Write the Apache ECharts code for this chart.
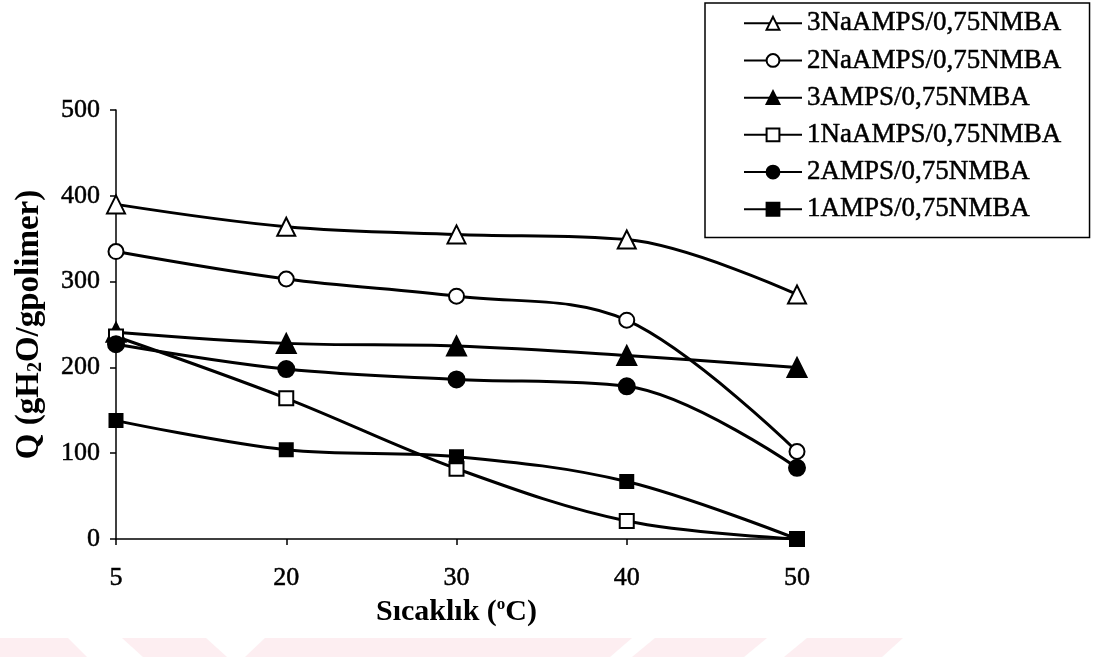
<!DOCTYPE html>
<html>
<head>
<meta charset="utf-8">
<title>Q - Sıcaklık</title>
<script src="https://cdn.jsdelivr.net/npm/echarts@6/dist/echarts.min.js"></script>
<style>
  html, body { margin: 0; padding: 0; background: #fff; }
  #chart { width: 1094px; height: 657px; }
</style>
</head>
<body>
<div id="chart"></div>
<script>
// Temperature categories (°C)
const temperatures = ['5', '20', '30', '40', '50'];

// Swelling ratio Q (g H2O / g polymer) for each gel composition
const naAmps3 = [390, 364, 355, 349, 285];
const naAmps2 = [335, 303, 283, 255, 102];
const amps3   = [241, 228, 225, 214, 200];
const naAmps1 = [236, 164, 82, 21, 0];
const amps2   = [227, 198, 186, 178, 83];
const amps1   = [138, 104, 96, 67, 0];

const seriesNames = [
  '3NaAMPS/0,75NMBA',
  '2NaAMPS/0,75NMBA',
  '3AMPS/0,75NMBA',
  '1NaAMPS/0,75NMBA',
  '2AMPS/0,75NMBA',
  '1AMPS/0,75NMBA'
];

const yTicks = [0, 100, 200, 300, 400, 500];

const serif = '"Liberation Serif", "Times New Roman", serif';

// Slight outline gives the printed serif text a heavier stroke
const inkText = { textBorderColor: '#000', textBorderWidth: 0.5 };

function lineSeries(name, data, symbol, size, filled) {
  return {
    name: name,
    type: 'line',
    data: data,
    smooth: 0.35,
    symbol: symbol,
    symbolSize: size,
    showAllSymbol: true,
    lineStyle: { color: '#000', width: 3 },
    itemStyle: {
      color: filled ? '#000' : '#fff',
      borderColor: '#000',
      borderWidth: 2
    },
    emphasis: { disabled: true }
  };
}

// Faint pink band pieces along the bottom edge
function band(xTopL, xTopR, xBotL, xBotR) {
  return {
    type: 'polygon',
    silent: true,
    z: -10,
    shape: { points: [[xTopL, 638], [xTopR, 638], [xBotR, 657], [xBotL, 657]] },
    style: { fill: '#fdeef1' }
  };
}

const chart = echarts.init(document.getElementById('chart'), null, { renderer: 'canvas' });

chart.setOption({
  backgroundColor: '#fff',
  animation: false,
  textStyle: { fontFamily: serif, color: '#000' },
  graphic: [
    band(0, 68, 0, 87),
    band(122, 206, 143, 227),
    band(265, 632, 245, 610),
    band(655, 767, 632, 744),
    band(807, 903, 784, 882)
  ],
  grid: { left: 116, right: 297, top: 110, bottom: 118, containLabel: false },
  legend: {
    data: seriesNames,
    orient: 'vertical',
    left: 705,
    top: 3,
    itemWidth: 58,
    itemHeight: 16,
    itemGap: 9.7,
    itemTextGap: 5,
    padding: [6.5, 28, 14.5, 38],
    borderColor: '#000',
    borderWidth: 1.5,
    borderRadius: 0,
    backgroundColor: '#fff',
    selectedMode: false,
    textStyle: Object.assign({ fontFamily: serif, fontSize: 27, lineHeight: 27, color: '#000' }, inkText)
  },
  xAxis: {
    type: 'category',
    data: temperatures,
    boundaryGap: false,
    name: '{b|Sıcaklık (}{sup|o}{b|C)}',
    nameLocation: 'middle',
    nameGap: 52,
    nameTextStyle: {
      rich: {
        b: { fontFamily: serif, fontSize: 30, fontWeight: 'bold', color: '#000', lineHeight: 32 },
        sup: { fontFamily: serif, fontSize: 17, fontWeight: 'bold', color: '#000', verticalAlign: 'top', lineHeight: 32, padding: [0, 0, 16, 0] }
      }
    },
    axisLine: { lineStyle: { color: '#000', width: 1.5 } },
    axisTick: { show: true, inside: false, length: 6, lineStyle: { color: '#000', width: 1.5 } },
    axisLabel: Object.assign({ fontFamily: serif, fontSize: 26, color: '#000', margin: 26 }, inkText),
    splitLine: { show: false }
  },
  yAxis: {
    type: 'value',
    min: yTicks[0],
    max: yTicks[yTicks.length - 1],
    interval: 100,
    name: '{b|Q (gH}{sub|2}{b|O/gpolimer)}',
    nameLocation: 'middle',
    nameGap: 70,
    nameRotate: 90,
    nameTextStyle: {
      rich: {
        b: { fontFamily: serif, fontSize: 33, fontWeight: 'bold', color: '#000', lineHeight: 34 },
        sub: { fontFamily: serif, fontSize: 20, fontWeight: 'bold', color: '#000', verticalAlign: 'bottom', lineHeight: 34, padding: [14, 0, 0, 0] }
      }
    },
    axisLine: { show: true, lineStyle: { color: '#000', width: 1.5 } },
    axisTick: { show: true, inside: false, length: 6, lineStyle: { color: '#000', width: 1.5 } },
    axisLabel: Object.assign({ fontFamily: serif, fontSize: 26, color: '#000', margin: 16 }, inkText),
    splitLine: { show: false }
  },
  series: [
    lineSeries(seriesNames[0], naAmps3, 'triangle', 18, false),
    lineSeries(seriesNames[1], naAmps2, 'circle', 15, false),
    lineSeries(seriesNames[2], amps3, 'triangle', 19, true),
    lineSeries(seriesNames[3], naAmps1, 'rect', 14, false),
    lineSeries(seriesNames[4], amps2, 'circle', 16, true),
    lineSeries(seriesNames[5], amps1, 'rect', 13, true)
  ]
});
</script>
</body>
</html>
